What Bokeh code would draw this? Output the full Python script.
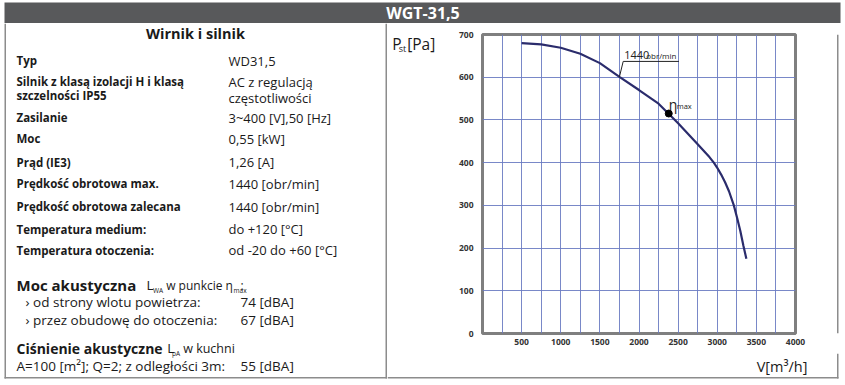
from bokeh.plotting import figure
from bokeh.layouts import row, column
from bokeh.models import Range1d, Label, FixedTicker
from bokeh.embed import file_html
from bokeh.resources import INLINE

# ---------------- data ----------------
FLOW = [500, 750, 1000, 1250, 1500, 1750, 2000, 2250, 2500, 2750, 2850, 2900, 2956, 3000, 3050, 3100,
        3150, 3212, 3255, 3295, 3335, 3372]
PRESSURE = [680, 677, 669, 655, 633, 601, 570, 538, 492, 443, 423, 413, 400, 388, 372, 354,
            333, 300, 270, 240, 205, 175]
ETA_FLOW = [2380]
ETA_PRESSURE = [515]
X_TICKS = [500, 1000, 1500, 2000, 2500, 3000, 3500, 4000]
Y_TICKS = [0, 100, 200, 300, 400, 500, 600, 700]
X_GRID = [250, 500, 750, 1000, 1250, 1500, 1750, 2000, 2250, 2500, 2750, 3000, 3250, 3500, 3750]
Y_GRID = [100, 200, 300, 400, 500, 600]
CURVE_SPEED = "1440"
CURVE_UNIT = "obr/min"
HEADER = "WGT-31,5"
SECTION = "Wirnik i silnik"
SPEC_LABELS = [["Typ"], ["Silnik z klasą izolacji H i klasą", "szczelności IP55"], ["Zasilanie"], ["Moc"],
               ["Prąd (IE3)"], ["Prędkość obrotowa max."], ["Prędkość obrotowa zalecana"],
               ["Temperatura medium:"], ["Temperatura otoczenia:"]]
SPEC_VALUES = [["WD31,5"], ["AC z regulacją", "częstotliwości"], ["3~400 [V],50 [Hz]"], ["0,55 [kW]"],
               ["1,26 [A]"], ["1440 [obr/min]"], ["1440 [obr/min]"], ["do +120 [°C]"], ["od -20 do +60 [°C]"]]
NOISE_ITEMS = ["› od strony wlotu powietrza:", "› przez obudowę do otoczenia:"]
NOISE_VALUES = ["74 [dBA]", "67 [dBA]"]
ROOM_TEXT = "A=100 [m²]; Q=2; z odległości 3m:"
ROOM_VALUE = "55 [dBA]"

# ---------------- style / layout ----------------
FONT = "Open Sans"
INK = "#1a1a1a"
GRAY = "#8c8c8c"
HEAD_H = 23
BODY_H = 361
BOX_BOTTOM = 355          # bottom border of the body box (local to body)


def pix_fig(w, h, bg="white"):
    f = figure(width=w, height=h, x_range=Range1d(0, w), y_range=Range1d(h, 0),
               x_axis_type=None, y_axis_type=None, min_border=0,
               toolbar_location=None, tools="", output_backend="svg")
    f.outline_line_color = None
    f.background_fill_color = bg
    f.border_fill_color = bg
    return f


def putc(f, x, yc, text, size, bold=False, color=INK, align="left"):
    f.add_layout(Label(x=x, y=yc - 0.5, text=text, text_font=FONT, text_font_size=f"{size}px",
                       text_font_style="bold" if bold else "normal", text_color=color,
                       text_align=align, text_baseline="middle"))


def bar(f, l, r, t, b, color=GRAY):
    f.quad(left=[l], right=[r], top=[t], bottom=[b], fill_color=color, line_color=None)


# header
head = pix_fig(844, HEAD_H)
bar(head, 4, 840, 2, HEAD_H, "#58595b")
putc(head, 422.5, 12.5, HEADER, 16, bold=True, color="white", align="center")

# left panel (table); local y = reference y - 23
left = pix_fig(387, BODY_H)
bar(left, 4, 5.5, 0, BOX_BOTTOM)
bar(left, 385, 386.5, 0, BOX_BOTTOM)
bar(left, 4, 387, BOX_BOTTOM - 1.5, BOX_BOTTOM)


def Y(ref):
    return ref - HEAD_H


putc(left, 195, Y(33.5), SECTION, 14.5, bold=True, align="center")
ROW_Y = [60.7, 81.7, 117.7, 138.5, 162, 183.5, 206.5, 229, 250]
for yc, labs, vals in zip(ROW_Y, SPEC_LABELS, SPEC_VALUES):
    for k, t in enumerate(labs):
        putc(left, 16, Y(yc + k * 13.3), t, 11.5, bold=True)
    for k, t in enumerate(vals):
        putc(left, 228, Y(yc + k * 16.5), t, 13)

putc(left, 16, Y(285), "Moc akustyczna", 15, bold=True)
putc(left, 146, Y(285), "L", 13.5)
putc(left, 152.5, Y(290), "WA", 6.5)
putc(left, 165.7, Y(285), "w punkcie η", 12)
putc(left, 233, Y(290), "max", 6.5)
putc(left, 240, Y(285), ":", 12)
for k, (t, v) in enumerate(zip(NOISE_ITEMS, NOISE_VALUES)):
    putc(left, 25, Y(302 + 18 * k), t, 13.5)
    putc(left, 240, Y(302 + 18 * k), v, 13.5)
putc(left, 16, Y(348), "Ciśnienie akustyczne", 14, bold=True)
putc(left, 166.7, Y(348), "L", 13.5)
putc(left, 171.5, Y(353), "pA", 6.5)
putc(left, 182.7, Y(348), "w kuchni", 12.5)
putc(left, 16, Y(366), ROOM_TEXT, 13.5)
putc(left, 240, Y(366), ROOM_VALUE, 13.5)

CH_W, CH_H = 370, 330

# y-axis title strip (x from 387 to 450)
ytit = pix_fig(63, CH_H)
putc(ytit, 4.7, 11, "P", 15.5)
putc(ytit, 11.3, 15.5, "st", 9)
putc(ytit, 19.7, 11, "[Pa]", 15.5)

# chart (x from 450 to 820)
p = figure(width=CH_W, height=CH_H, x_range=Range1d(0, 4000), y_range=Range1d(0, 700),
           min_border_left=32, min_border_right=25, min_border_top=11, min_border_bottom=20,
           toolbar_location=None, tools="", output_backend="svg")
p.background_fill_color = "white"
p.border_fill_color = "white"
p.outline_line_color = "#7f7f7f"
p.outline_line_width = 3

for ax, ticks in ((p.xaxis, X_TICKS), (p.yaxis, Y_TICKS)):
    ax.ticker = FixedTicker(ticks=ticks)
    ax.axis_line_color = None
    ax.major_tick_line_color = None
    ax.minor_tick_line_color = None
    ax.major_tick_out = 0
    ax.major_tick_in = 0
    ax.minor_tick_out = 0
    ax.minor_tick_in = 0
    ax.major_label_text_font = FONT
    ax.major_label_text_font_size = "8.5px"
    ax.major_label_text_font_style = "bold"
    ax.major_label_text_color = "#333333"
p.xaxis.major_label_standoff = 5
p.yaxis.major_label_standoff = 9

p.xgrid.ticker = FixedTicker(ticks=X_GRID)
p.ygrid.ticker = FixedTicker(ticks=Y_GRID)
for g in (p.xgrid, p.ygrid):
    g.grid_line_color = "#6a7bc2"
    g.grid_line_width = 1
    g.grid_line_alpha = 0.9

p.line(FLOW, PRESSURE, line_color="#2b2c6c", line_width=2.2)
p.scatter(ETA_FLOW, ETA_PRESSURE, size=7, color="black")

# leader for the speed label, anchored on the curve point at 1750
i0 = FLOW.index(1750)
ax0, ay0 = FLOW[i0], PRESSURE[i0]
p.line([ax0, ax0 + 48, ax0 + 760], [ay0, ay0 + 36, ay0 + 36], line_color="#222222", line_width=1)
p.add_layout(Label(x=ax0 + 48, y=ay0 + 36, x_offset=1, y_offset=6.5, text=CURVE_SPEED, text_font=FONT,
                   text_font_size="11px", text_color="#222222", text_baseline="middle"))
p.add_layout(Label(x=ax0 + 48, y=ay0 + 36, x_offset=23, y_offset=6, text=CURVE_UNIT, text_font=FONT,
                   text_font_size="8px", text_color="#222222", text_baseline="middle"))
p.add_layout(Label(x=ETA_FLOW[0], y=ETA_PRESSURE[0], x_offset=0, y_offset=9, text="η", text_font=FONT,
                   text_font_size="14px", text_color="#222222", text_baseline="middle"))
p.add_layout(Label(x=ETA_FLOW[0], y=ETA_PRESSURE[0], x_offset=8, y_offset=8, text="max", text_font=FONT,
                   text_font_size="7.5px", text_color="#222222", text_baseline="middle"))

# right border strip (x from 820 to 844)
rstrip = pix_fig(24, CH_H)
bar(rstrip, 16.5, 18, 0, CH_H)

# bottom strip under the chart area (x from 387 to 844); holds the x title
BOT_W, BOT_H = 457, BODY_H - CH_H
bottom = pix_fig(BOT_W, BOT_H)
bar(bottom, 0, 451, BOX_BOTTOM - CH_H - 1.5, BOX_BOTTOM - CH_H)
bar(bottom, 449.5, 451, 0, BOX_BOTTOM - CH_H)
putc(bottom, 420, 13, "V[m³/h]", 14.5, align="right")

layout = column(head, row(left, column(row(ytit, p, rstrip), bottom)))
open("out.html", "w").write(file_html(layout, INLINE))
